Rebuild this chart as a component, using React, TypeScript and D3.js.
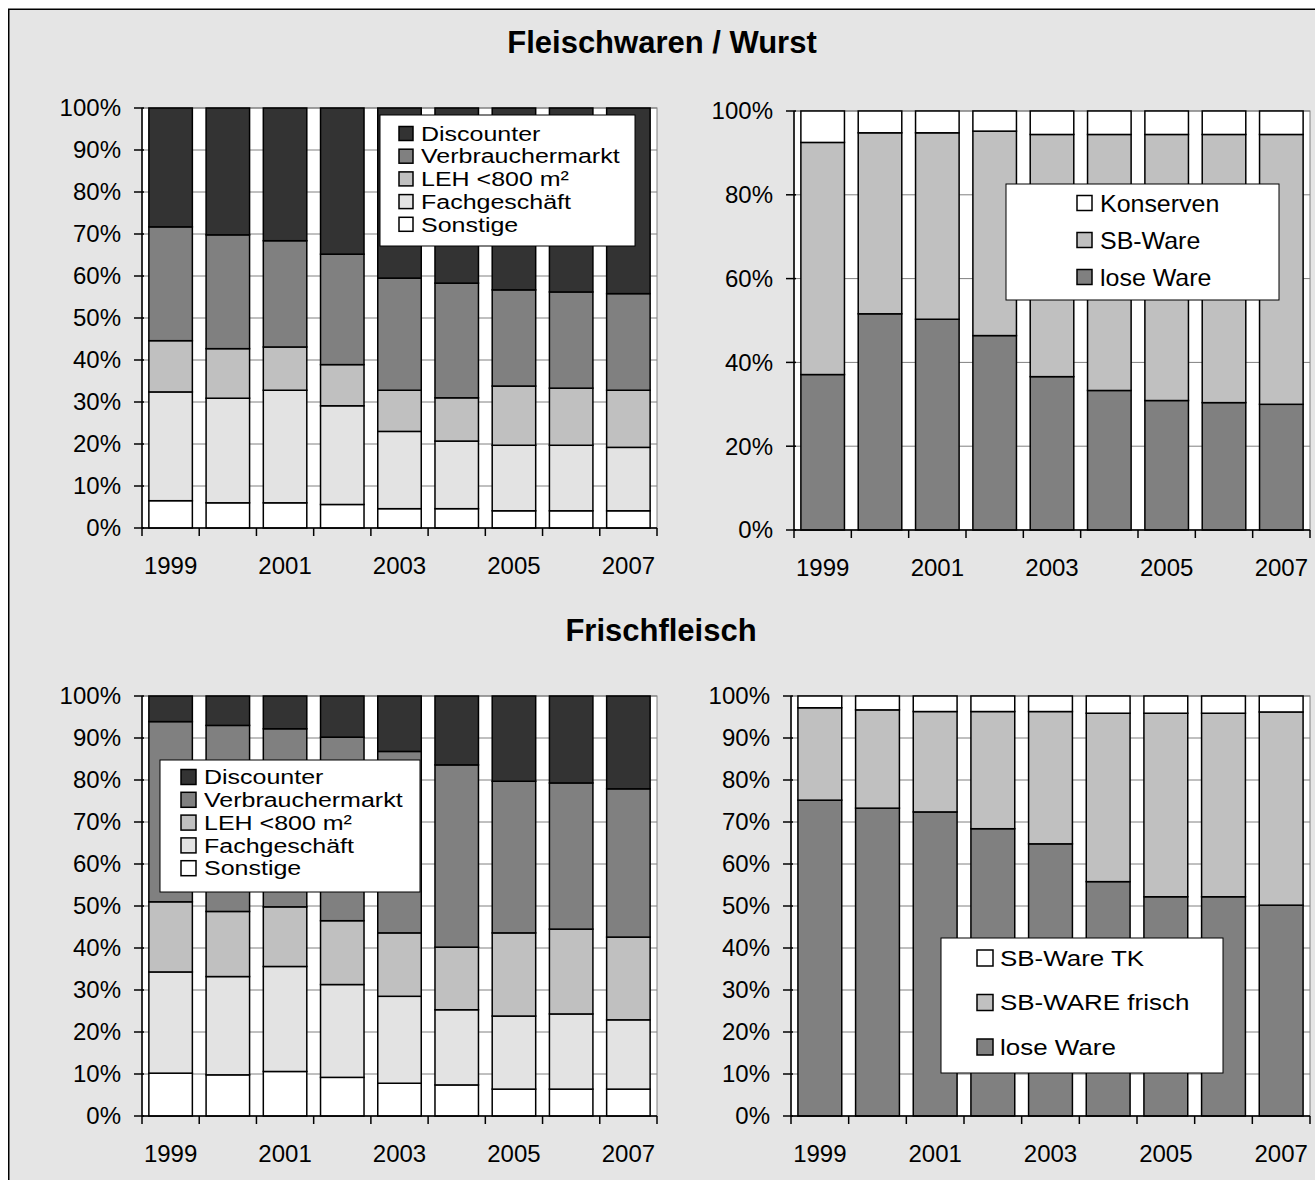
import React from 'react';
import * as d3 from 'd3';

const years = ['1999', '2000', '2001', '2002', '2003', '2004', '2005', '2006', '2007'];

// Fleischwaren / Wurst – Einkaufsstätten (%)
const fwSonstige = [6.5, 6.0, 6.0, 5.6, 4.6, 4.6, 4.1, 4.1, 4.1];
const fwFachgeschaeft = [25.9, 24.9, 26.8, 23.5, 18.4, 16.1, 15.6, 15.6, 15.1];
const fwLeh = [12.2, 11.8, 10.3, 9.8, 9.8, 10.3, 14.1, 13.6, 13.6];
const fwVerbraucher = [27.1, 27.1, 25.3, 26.3, 26.7, 27.3, 22.9, 22.9, 23.0];
const fwDiscounter = [28.3, 30.2, 31.6, 34.8, 40.5, 41.7, 43.3, 43.8, 44.2];

// Fleischwaren / Wurst – Angebotsform (%)
const fwLose = [37.1, 51.6, 50.3, 46.4, 36.6, 33.3, 30.9, 30.4, 30.0];
const fwSbWare = [55.4, 43.2, 44.5, 48.8, 57.8, 61.1, 63.5, 64.0, 64.4];
const fwKonserven = [7.5, 5.2, 5.2, 4.8, 5.6, 5.6, 5.6, 5.6, 5.6];

// Frischfleisch – Einkaufsstätten (%)
const ffSonstige = [10.2, 9.8, 10.6, 9.2, 7.8, 7.4, 6.4, 6.4, 6.4];
const ffFachgeschaeft = [24.1, 23.4, 25.0, 22.1, 20.7, 17.9, 17.4, 17.9, 16.5];
const ffLeh = [16.7, 15.5, 14.2, 15.2, 15.1, 14.9, 19.8, 20.2, 19.7];
const ffVerbraucher = [42.9, 44.3, 42.4, 43.7, 43.2, 43.4, 36.1, 34.8, 35.3];
const ffDiscounter = [6.1, 7.0, 7.8, 9.8, 13.2, 16.4, 20.3, 20.7, 22.1];

// Frischfleisch – Angebotsform (%)
const ffLose = [75.2, 73.3, 72.4, 68.4, 64.8, 55.8, 52.2, 52.2, 50.2];
const ffSbFrisch = [22.0, 23.4, 23.9, 27.9, 31.5, 40.1, 43.7, 43.7, 46.0];
const ffSbTk = [2.8, 3.3, 3.7, 3.7, 3.7, 4.1, 4.1, 4.1, 3.8];

const shopNames = ['Sonstige', 'Fachgeschäft', 'LEH <800 m²', 'Verbrauchermarkt', 'Discounter'];
const shopColors = ['#ffffff', '#e3e3e3', '#c0c0c0', '#808080', '#333333'];
const formColors = ['#808080', '#c0c0c0', '#ffffff'];

const FONT = '"Liberation Sans", Arial, Helvetica, sans-serif';

interface Series {
  name: string;
  values: number[];
  color: string;
}

interface Legend {
  x: number; y: number; w: number; h: number;
  swatchX: number; textX: number; row0: number; rowGap: number;
  size: number; fontSize: number; stretch: number;
}

interface PanelProps {
  series: Series[]; // bottom to top
  left: number;
  right: number;
  top: number;
  bottom: number;
  tickStep: number;
  legend: Legend;
}

const Panel = ({ series, left, right, top, bottom, tickStep, legend }: PanelProps) => {
  const padInner = 0.24;
  const x = d3.scaleBand<string>().domain(years).range([left, right]).paddingInner(padInner).paddingOuter(padInner / 2);
  const y = d3.scaleLinear().domain([0, 100]).range([bottom, top]);

  const rows = years.map((yr, i) => {
    const r: Record<string, number | string> = { year: yr };
    series.forEach(s => { r[s.name] = s.values[i]; });
    return r;
  });
  const stacked = d3.stack<Record<string, number | string>>().keys(series.map(s => s.name))(rows as any);

  const yTicks = d3.range(0, 100 + 0.001, tickStep);
  const step = x.step();
  const bounds = years.map(yr => (x(yr) as number) - (step * padInner) / 2).concat([right]);

  return (
    <g>
      <rect x={left} y={top} width={right - left} height={bottom - top} fill="#fff" stroke="#808080" strokeWidth={1} />
      {yTicks.map(t => (
        <line key={'g' + t} x1={left} x2={right} y1={y(t)} y2={y(t)} stroke="#808080" strokeWidth={1} />
      ))}
      {stacked.map((layer, li) => (
        <g key={layer.key}>
          {layer.map((d, i) => (
            <rect
              key={i}
              x={x(years[i])}
              y={y(d[1])}
              width={x.bandwidth()}
              height={y(d[0]) - y(d[1])}
              fill={series[li].color}
              stroke="#000"
              strokeWidth={1.5}
            />
          ))}
        </g>
      ))}
      {/* axes */}
      <line x1={left} x2={left} y1={top} y2={bottom} stroke="#000" strokeWidth={1.5} />
      <line x1={left} x2={right} y1={bottom} y2={bottom} stroke="#000" strokeWidth={1.5} />
      {yTicks.map(t => (
        <g key={'yt' + t}>
          <line x1={left - 8} x2={left + 2} y1={y(t)} y2={y(t)} stroke="#000" strokeWidth={1.5} />
          <text x={left - 21} y={y(t)} dy="0.35em" textAnchor="end" fontSize={24} fontFamily={FONT} fill="#000">
            {t}%
          </text>
        </g>
      ))}
      {bounds.map((bx, i) => (
        <line key={'xt' + i} x1={bx} x2={bx} y1={bottom} y2={bottom + 8} stroke="#000" strokeWidth={1.5} />
      ))}
      {years.map((yr, i) =>
        i % 2 === 0 ? (
          <text key={'xl' + yr} x={(x(yr) as number) + x.bandwidth() / 2} y={bottom + 46} textAnchor="middle" fontSize={24} fontFamily={FONT} fill="#000">
            {yr}
          </text>
        ) : null
      )}
      {/* legend */}
      <rect x={legend.x} y={legend.y} width={legend.w} height={legend.h} fill="#fff" stroke="#000" strokeWidth={1} />
      {series
        .slice()
        .reverse()
        .map((s, i) => {
          const cy = legend.row0 + i * legend.rowGap;
          return (
            <g key={'lg' + s.name}>
              <rect x={legend.swatchX} y={cy - legend.size / 2} width={legend.size} height={legend.size} fill={s.color} stroke="#000" strokeWidth={1.5} />
              <text
                transform={`translate(${legend.textX},${cy}) scale(${legend.stretch},1)`}
                dy="0.36em"
                fontSize={legend.fontSize}
                fontFamily={FONT}
                fill="#000"
              >
                {s.name}
              </text>
            </g>
          );
        })}
    </g>
  );
};

const mkShop = (vals: number[][]): Series[] => vals.map((v, i) => ({ name: shopNames[i], values: v, color: shopColors[i] }));

export default function App() {
  const fwShop = mkShop([fwSonstige, fwFachgeschaeft, fwLeh, fwVerbraucher, fwDiscounter]);
  const ffShop = mkShop([ffSonstige, ffFachgeschaeft, ffLeh, ffVerbraucher, ffDiscounter]);
  const fwForm: Series[] = [
    { name: 'lose Ware', values: fwLose, color: formColors[0] },
    { name: 'SB-Ware', values: fwSbWare, color: formColors[1] },
    { name: 'Konserven', values: fwKonserven, color: formColors[2] },
  ];
  const ffForm: Series[] = [
    { name: 'lose Ware', values: ffLose, color: formColors[0] },
    { name: 'SB-WARE frisch', values: ffSbFrisch, color: formColors[1] },
    { name: 'SB-Ware TK', values: ffSbTk, color: formColors[2] },
  ];

  return (
    <div style={{ position: 'absolute', left: 0, top: 0 }}>
      <svg width={1315} height={1180} style={{ display: 'block' }}>
        <rect x={8.75} y={9.25} width={1400} height={1300} fill="#e5e5e5" stroke="#000" strokeWidth={1.5} />
        <text x={662} y={53} textAnchor="middle" fontSize={31} fontWeight="bold" fontFamily={FONT}>
          Fleischwaren / Wurst
        </text>
        <text x={661} y={641} textAnchor="middle" fontSize={31} fontWeight="bold" fontFamily={FONT}>
          Frischfleisch
        </text>
        <Panel
          series={fwShop}
          left={142}
          right={657}
          top={108}
          bottom={528}
          tickStep={10}
          legend={{ x: 380, y: 115, w: 255, h: 131, swatchX: 399, textX: 421, row0: 133.5, rowGap: 22.7, size: 14, fontSize: 20, stretch: 1.25 }}
        />
        <Panel
          series={fwForm}
          left={794}
          right={1310}
          top={111}
          bottom={530}
          tickStep={20}
          legend={{ x: 1006, y: 184, w: 273, h: 116, swatchX: 1077, textX: 1100, row0: 203, rowGap: 37, size: 15, fontSize: 24, stretch: 1.04 }}
        />
        <Panel
          series={ffShop}
          left={142}
          right={657}
          top={696}
          bottom={1116}
          tickStep={10}
          legend={{ x: 160, y: 760, w: 260, h: 132, swatchX: 181, textX: 204, row0: 777, rowGap: 22.8, size: 15, fontSize: 20, stretch: 1.25 }}
        />
        <Panel
          series={ffForm}
          left={791}
          right={1310}
          top={696}
          bottom={1116}
          tickStep={10}
          legend={{ x: 941, y: 938, w: 282, h: 135, swatchX: 977, textX: 1000, row0: 958, rowGap: 44.5, size: 16, fontSize: 22, stretch: 1.18 }}
        />
      </svg>
    </div>
  );
}
